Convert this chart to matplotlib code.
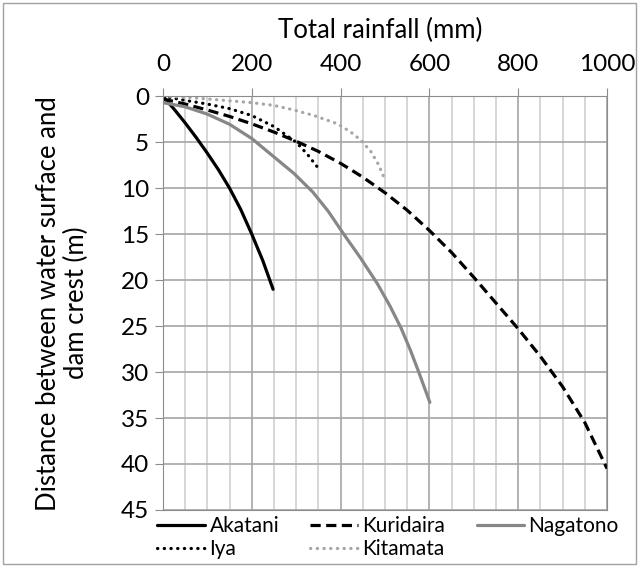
import numpy as np
import matplotlib.pyplot as plt
from matplotlib.patches import Rectangle
from matplotlib.ticker import MultipleLocator

plt.rcParams['font.family'] = ['Lato', 'DejaVu Sans']

# rainfall (mm) vs distance between water surface and dam crest (m)
akatani_x = [0, 25, 50, 75, 100, 125, 150, 175, 200, 225, 248]
akatani_y = [0, 1.4, 2.9, 4.5, 6.2, 8.0, 10.0, 12.3, 15.0, 17.9, 21.0]

kuridaira_x = [0, 50, 100, 150, 200, 250, 300, 350, 400, 450, 500, 550, 600, 650, 700,
               750, 800, 850, 900, 950, 1000]
kuridaira_y = [0.3, 0.85, 1.5, 2.2, 3.0, 3.9, 4.9, 6.0, 7.3, 8.8, 10.5, 12.4, 14.6, 17.0, 19.7,
               22.5, 25.3, 28.3, 31.6, 35.5, 40.5]

nagatono_x = [0, 50, 100, 150, 200, 250, 295, 337, 372, 407, 445, 483, 511, 536, 557, 576, 601]
nagatono_y = [0.7, 1.15, 1.95, 3.05, 4.6, 6.6, 8.4, 10.4, 12.5, 15.0, 17.6, 20.4, 22.8, 25.2, 27.6,
              30.0, 33.3]

iya_x = [0, 50, 100, 150, 200, 250, 300, 325, 351]
iya_y = [0, 0.45, 0.85, 1.35, 2.1, 3.3, 5.0, 6.3, 7.9]

kitamata_x = [0, 50, 100, 150, 200, 250, 295, 340, 393, 423, 446, 468, 485, 500]
kitamata_y = [0, 0.1, 0.3, 0.5, 0.7, 1.0, 1.5, 2.1, 3.0, 3.9, 4.8, 6.0, 7.4, 9.1]

fig = plt.figure(figsize=(6.39, 5.66), dpi=100)
ax = fig.add_axes([0.255, 0.099, 0.695, 0.731])

lw = 2.3
l_ak, = ax.plot(akatani_x, akatani_y, color='black', lw=lw, solid_capstyle='round', label='Akatani')
l_ku, = ax.plot(kuridaira_x, kuridaira_y, color='black', lw=lw, ls=(0, (3.2, 1.7)), label='Kuridaira')
l_na, = ax.plot(nagatono_x, nagatono_y, color='#878787', lw=lw, solid_capstyle='round', label='Nagatono')
l_iy, = ax.plot(iya_x, iya_y, color='black', lw=lw, ls=(0, (0.1, 2.0)), dash_capstyle='round', label='Iya')
l_ki, = ax.plot(kitamata_x, kitamata_y, color='#a6a6a6', lw=lw, ls=(0, (0.1, 2.0)), dash_capstyle='round', label='Kitamata')

ax.set_xlim(0, 1000)
ax.set_ylim(45, 0)
ax.xaxis.set_major_locator(MultipleLocator(200))
ax.xaxis.set_minor_locator(MultipleLocator(50))
ax.yaxis.set_major_locator(MultipleLocator(5))
ax.xaxis.tick_top()
ax.xaxis.set_label_position('top')
ax.grid(which='major', color='#a6a6a6', lw=1.2)
ax.grid(which='minor', axis='x', color='#d0d0d0', lw=1.2)
ax.set_axisbelow(True)
ax.tick_params(which='major', direction='out', length=6, color='#8c8c8c', labelsize=17.5)
ax.tick_params(axis='x', pad=9)
ax.tick_params(axis='y', pad=4)
ax.tick_params(which='minor', length=0)
for s in ax.spines.values():
    s.set_color('#8c8c8c')

ax.set_xlabel('Total rainfall (mm)', fontsize=18.5)
ax.xaxis.set_label_coords(0.49, 1.16)
ax.xaxis.label.set_va('center')
ax.set_ylabel('Distance between water surface and\ndam crest (m)', fontsize=18.5, linespacing=1.14)
ax.yaxis.set_label_coords(-0.227, 0.5)
ax.yaxis.label.set_va('center')

handles = [l_ak, l_iy, l_ku, l_ki, l_na]
fig.legend(handles=handles, labels=[h.get_label() for h in handles], loc='upper left',
           bbox_to_anchor=(0.243, 0.092), ncol=3, frameon=False, fontsize=15,
           handlelength=2.3, handletextpad=0.2, columnspacing=1.5,
           labelspacing=0.15, borderaxespad=0, borderpad=0.1)

fig.patches.append(Rectangle((0.004, 0.003), 0.992, 0.992, transform=fig.transFigure,
                             fill=False, edgecolor='#a0a0a0', lw=1))

fig.savefig('out.png', dpi=100)
